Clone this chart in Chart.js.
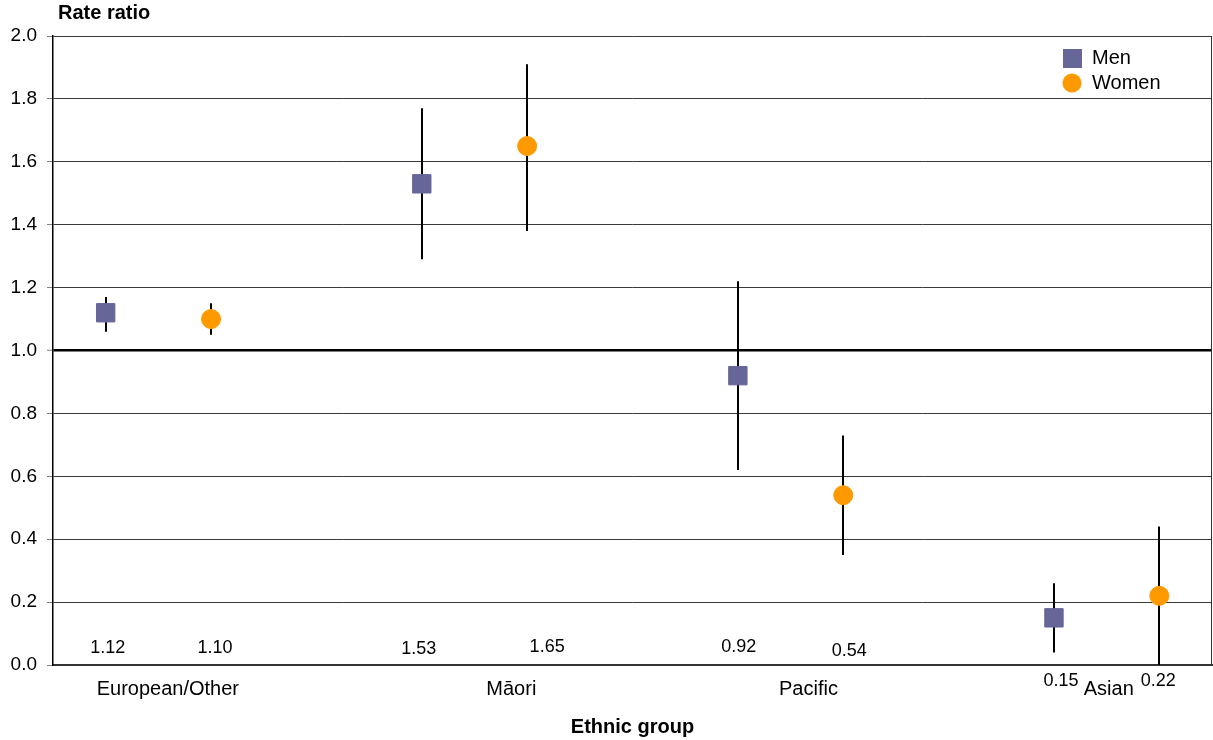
<!DOCTYPE html>
<html>
<head>
<meta charset="utf-8">
<script src="https://cdn.jsdelivr.net/npm/chart.js@4.4.0/dist/chart.umd.min.js"></script>
<style>
  html, body { margin: 0; padding: 0; background: #fff; }
  #wrap { width: 1213px; height: 740px; }
</style>
</head>
<body>
<div id="wrap"><canvas id="chart" width="1213" height="740"></canvas></div>
<script>
// Ethnic groups along the x axis
const GROUPS = ['European/Other', 'Māori', 'Pacific', 'Asian'];

// Rate ratios with 95% confidence limits
const MEN_RATIO = [1.12, 1.53, 0.92, 0.15];
const MEN_LOW = [1.06, 1.29, 0.62, 0.04];
const MEN_HIGH = [1.17, 1.77, 1.22, 0.26];

const WOMEN_RATIO = [1.10, 1.65, 0.54, 0.22];
const WOMEN_LOW = [1.05, 1.38, 0.35, 0.00];
const WOMEN_HIGH = [1.15, 1.91, 0.73, 0.44];

const Y_TICKS = [0.0, 0.2, 0.4, 0.6, 0.8, 1.0, 1.2, 1.4, 1.6, 1.8, 2.0];

// where each group name sits on the x axis (slot units, 3 slots per group)
const GROUP_TICK_AT = [1.09, 4.35, 7.17, 10.02];

// pixel nudges for the value labels printed along the bottom
const MEN_LABEL_NUDGE = [[2, -17], [-3, -16], [1, -18], [7, 16]];
const WOMEN_LABEL_NUDGE = [[4, -17], [20, -18], [6, -14], [-1, 16]];

const FONT = "'Liberation Sans', Arial, sans-serif";
const COLORS = { men: '#666699', women: '#FF9900' };

const menPoints = MEN_RATIO.map((v, i) => ({ x: i * 3 + 0.5, y: v }));
const womenPoints = WOMEN_RATIO.map((v, i) => ({ x: i * 3 + 1.5, y: v }));

const errorBars = {
  id: 'errorBars',
  beforeDatasetsDraw(chart) {
    const { ctx, scales: { x, y } } = chart;
    const sets = [[menPoints, MEN_LOW, MEN_HIGH], [womenPoints, WOMEN_LOW, WOMEN_HIGH]];
    ctx.save();
    ctx.strokeStyle = '#000';
    ctx.lineWidth = 2;
    sets.forEach(([pts, lo, hi]) => {
      pts.forEach((p, i) => {
        const px = Math.round(x.getPixelForValue(p.x));
        ctx.beginPath();
        ctx.moveTo(px, y.getPixelForValue(hi[i]));
        ctx.lineTo(px, y.getPixelForValue(lo[i]));
        ctx.stroke();
      });
    });
    // right edge of the plot frame
    const a = chart.chartArea;
    ctx.lineWidth = 1;
    ctx.strokeStyle = '#333';
    ctx.beginPath();
    ctx.moveTo(a.right - 0.5, a.top);
    ctx.lineTo(a.right - 0.5, a.bottom);
    ctx.stroke();
    ctx.restore();
  },
};

const annotations = {
  id: 'annotations',
  afterDraw(chart) {
    const { ctx, scales: { x, y } } = chart;
    const base = y.getPixelForValue(0);
    ctx.save();
    ctx.fillStyle = '#000';
    ctx.textAlign = 'center';
    ctx.textBaseline = 'middle';
    ctx.font = `18px ${FONT}`;
    const drawValues = (pts, nudge) => {
      pts.forEach((p, i) => {
        const [dx, dy] = nudge[i];
        ctx.fillText(p.y.toFixed(2), x.getPixelForValue(p.x) + dx, base + dy);
      });
    };
    drawValues(menPoints, MEN_LABEL_NUDGE);
    drawValues(womenPoints, WOMEN_LABEL_NUDGE);

    // y axis caption
    ctx.textAlign = 'left';
    ctx.font = `bold 20px ${FONT}`;
    ctx.fillText('Rate ratio', 58, 13);

    // legend
    const lx = 1072;
    ctx.font = `20px ${FONT}`;
    ctx.fillStyle = COLORS.men;
    ctx.fillRect(lx - 9, 49, 19, 19);
    ctx.fillStyle = COLORS.women;
    ctx.beginPath();
    ctx.arc(lx, 83, 9.5, 0, Math.PI * 2);
    ctx.fill();
    ctx.fillStyle = '#000';
    ctx.fillText('Men', 1092, 58);
    ctx.fillText('Women', 1092, 83);
    ctx.restore();
  },
};

new Chart(document.getElementById('chart'), {
  type: 'scatter',
  data: {
    datasets: [
      {
        label: 'Men',
        data: menPoints,
        pointStyle: 'rect',
        pointRadius: 13,
        pointHoverRadius: 13,
        backgroundColor: COLORS.men,
        borderColor: COLORS.men,
        borderWidth: 1,
      },
      {
        label: 'Women',
        data: womenPoints,
        pointStyle: 'circle',
        pointRadius: 9.5,
        pointHoverRadius: 9.5,
        backgroundColor: COLORS.women,
        borderColor: COLORS.women,
        borderWidth: 1,
      },
    ],
  },
  options: {
    responsive: false,
    animation: false,
    devicePixelRatio: 1,
    events: [],
    layout: { autoPadding: false, padding: { top: 36, right: 1, left: 0, bottom: 0 } },
    plugins: {
      legend: { display: false },
      tooltip: { enabled: false },
    },
    scales: {
      x: {
        type: 'linear',
        min: 0,
        max: 11,
        afterFit(scale) {
          scale.height = 75;
          scale.paddingLeft = 0;
          scale.paddingRight = 0;
        },
        afterBuildTicks(scale) { scale.ticks = GROUP_TICK_AT.map((v) => ({ value: v })); },
        grid: { display: false, drawTicks: false },
        border: { display: true, color: '#333', width: 2 },
        ticks: {
          autoSkip: false,
          maxRotation: 0,
          padding: 12,
          color: '#000',
          font: { family: FONT, size: 20 },
          callback: (v, i) => GROUPS[i],
        },
        title: {
          display: true,
          text: 'Ethnic group',
          color: '#000',
          font: { family: FONT, size: 20, weight: 'bold' },
          padding: { top: 0, bottom: 1 },
        },
      },
      y: {
        min: 0,
        max: 2,
        afterFit(scale) { scale.width = 53; },
        afterBuildTicks(scale) { scale.ticks = Y_TICKS.map((v) => ({ value: v })); },
        border: { display: true, color: '#000', width: 1.5 },
        grid: {
          color: (c) => (Math.abs(c.tick.value - 1) < 1e-6 ? '#000' : '#3a3a3a'),
          lineWidth: (c) => (Math.abs(c.tick.value - 1) < 1e-6 ? 2.5 : 1),
          drawTicks: true,
          tickLength: 6,
          tickColor: '#808080',
          tickWidth: 1,
        },
        ticks: {
          padding: 10,
          color: '#000',
          font: { family: FONT, size: 19 },
          callback: (v) => v.toFixed(1),
        },
      },
    },
  },
  plugins: [errorBars, annotations],
});
</script>
</body>
</html>
